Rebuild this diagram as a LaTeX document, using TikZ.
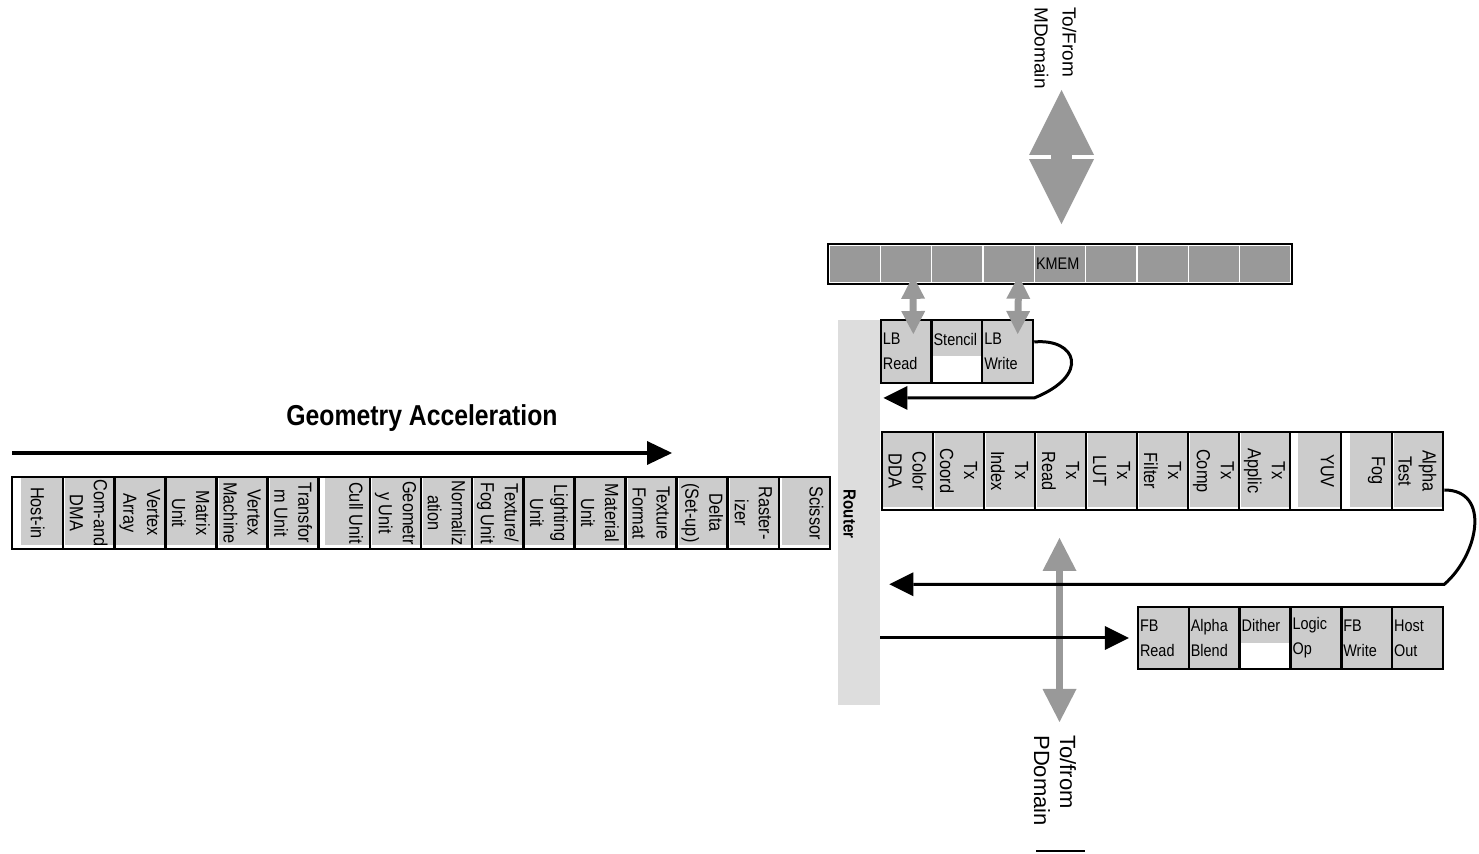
\documentclass[tikz,border=0pt]{standalone}
\usepackage{fontspec}
\newfontfamily\nfont{Liberation Sans}[FakeStretch=0.86]
\newfontfamily\wfont{Liberation Sans}
\usetikzlibrary{arrows.meta,calc}

\definecolor{cellgray}{HTML}{CCCCCC}
\definecolor{memgray}{HTML}{999999}
\definecolor{busgray}{HTML}{999999}
\definecolor{routergray}{HTML}{DDDDDD}

\tikzset{
  pipefont/.style={font=\nfont\fontsize{9.5pt}{12pt}\selectfont},
  unitfont/.style={font=\nfont\fontsize{8.4pt}{12.5pt}\selectfont},
  pipecell/.style={draw=black, line width=1.3pt, rotate=-90, inner sep=0pt,
    align=center, pipefont},
  geocell/.style={pipecell, minimum width=36pt, minimum height=25.56pt},
  rastcell/.style={pipecell, minimum width=39pt, minimum height=25.5pt},
  unitcell/.style={draw=black, line width=1.2pt, fill=cellgray,
    minimum width=25.4pt, minimum height=31.25pt, text width=23.4pt,
    inner sep=1pt, align=left, unitfont},
  halfcell/.style={unitcell, fill=none,
    path picture={\fill[cellgray] (path picture bounding box.north west)
      rectangle ([yshift=-18pt]path picture bounding box.north east);}},
  memcell/.style={fill=memgray, draw=white, line width=0.8pt,
    minimum width=25.67pt, minimum height=19pt, inner sep=0pt, unitfont},
  routerbar/.style={fill=routergray, minimum width=21pt, minimum height=192.5pt,
    inner sep=0pt},
  domainlabel/.style={rotate=-90, anchor=west, align=left, inner sep=0pt},
  flow/.style={line width=1.5pt, -{Triangle[length=12pt,width=12pt,line width=0pt]}},
  gaflow/.style={line width=2pt, -{Triangle[length=12.5pt,width=12pt,line width=0pt]}},
  bigbus/.style={busgray, line width=10.5pt,
    {Triangle[length=32.5pt,width=32.5pt,line width=0pt]}-{Triangle[length=32.5pt,width=32.5pt,line width=0pt]}},
  smallbus/.style={busgray, line width=3.5pt,
    {Triangle[length=11.5pt,width=12pt,line width=0pt]}-{Triangle[length=11.5pt,width=12pt,line width=0pt]}},
  pbus/.style={busgray, line width=3.5pt,
    {Triangle[length=16.5pt,width=17pt,line width=0pt]}-{Triangle[length=16.5pt,width=17pt,line width=0pt]}},
}

\begin{document}
\begin{tikzpicture}[x=0.5pt,y=-0.5pt]
\useasboundingbox (0,0) rectangle (1479,854);

% router bar
\node[routerbar] (router) at (859,512.5) {};
\node[rotate=-90, inner sep=0pt, font=\nfont\bfseries\fontsize{8.75pt}{10pt}\selectfont]
  (rlabel) at (849.5,514) {Router};

% geometry acceleration heading and arrow
\node[inner sep=0pt, font=\nfont\bfseries\fontsize{14.4pt}{16pt}\selectfont]
  (ga) at (422,418) {Geometry Acceleration};
\coordinate (gastart) at (12,453);
\coordinate (gaend) at (672,453);
\draw[gaflow] (gastart) -- (gaend);

% geometry pipeline
\foreach \g [count=\i] in {9,2,2,2,2,2,6,2,2,2,2,2,2,2,2,3}
  \fill[cellgray] ({12+51.125*(\i-1)+\g},478) rectangle ({12+51.125*\i},545);
\foreach \t [count=\i] in {Host-in,{Com-and\\DMA},{Vertex\\Array},{Matrix\\Unit},
    {Vertex\\Machine},{Transfor\\m Unit},{Cull Unit\\\mbox{}},{Geometr\\y Unit},
    {Normaliz\\ation},{Texture/\\Fog Unit},{Lighting\\Unit},{Material\\Unit},
    {Texture\\Format},{Delta\\(Set-up)},{Raster-\\izer},{Scissor\\\mbox{}}}
  \node[geocell] (g\i) at ({12+51.125*(\i-0.5)},513) {\t};

% rasterisation pipeline
\foreach \g [count=\i] in {1,2,2,2,2,2,2,2,8,9,2}
  \fill[cellgray] ({882+51*(\i-1)+\g},433) rectangle ({882+51*\i},507);
\foreach \t [count=\i] in {{Color\\DDA},{Tx\\Coord},{Tx\\Index},{Tx\\Read},
    {Tx\\LUT},{Tx\\Filter},{Tx\\Comp},{Tx\\Applic},{YUV\\\mbox{}},{Fog\\\mbox{}},
    {Alpha\\Test}}
  \node[rastcell] (r\i) at ({882+51*(\i-0.5)},471) {\t};

% KMEM bank
\foreach \i in {1,...,9}
  \node[memcell] (k\i) at ({829+51.333*(\i-0.5)},264) {};
\node[memcell, text width=24pt, align=left] (kmem) at (k5) {KMEM};
\draw[line width=0.9pt] (k1.north west) rectangle (k9.south east);

% local buffer units
\node[unitcell] (lbr) at (906.33,351.5) {LB\\Read};
\node[halfcell] (stc) at (957,351.5) {Stencil\\\mbox{}};
\node[unitcell] (lbw) at (1007.67,351.5) {LB\\Write};

% frame buffer units
\node[unitcell] (fbr) at (1163.42,638) {FB\\Read};
\node[unitcell] (fab) at (1214.25,638) {Alpha\\Blend};
\node[halfcell] (fdi) at (1265.08,638) {Dither\\\mbox{}};
\node[unitcell] (flo) at (1315.92,638) {Logic\\Op};
\node[unitcell] (fbw) at (1366.75,638) {FB\\Write};
\node[unitcell] (fho) at (1417.58,638) {Host\\Out};

% memory domain link
\node[domainlabel, font=\wfont\fontsize{9.5pt}{14pt}\selectfont]
  (mdlabel) at (1055.5,7) {To/From\\MDomain};
\coordinate (mdtip) at (1061.5,90);
\draw[bigbus, shorten >=10pt] (mdtip) -- (mdtip |- k5.north);

% KMEM to local buffer links
\draw[smallbus] ($(k2.south)+(7,-8)$) -- ($(lbr.north)+(7,15)$);
\draw[smallbus] ($(k4.south)+(10,-8)$) -- ($(lbw.north)+(10,15)$);

% pixel domain link
\node[domainlabel, font=\wfont\fontsize{11pt}{13pt}\selectfont]
  (pdlabel) at (1055,735) {To/from\\PDomain};
\coordinate (pdtip) at (1059.5,538);
\draw[pbus, shorten >=6.5pt] (pdtip) -- (pdtip |- pdlabel.west);

% return loops to the router
\coordinate (lbret) at ($(lbw.south east)+(0,14)$);
\draw[flow, shorten >=1.5pt] ($(lbw.east)+(0,-9.5)$)
  .. controls ($(lbw.east)+(42,-13.5)$) and ($(lbw.east)+(57,23.5)$) .. (lbret)
  -- (router.east |- lbret);

% (the rotated cell's north side faces right)
\coordinate (atret) at ($(r11.north east)+(0,73)$);
\draw[flow, shorten >=4.5pt] ($(r11.north)+(0,19)$)
  .. controls ($(r11.north)+(47,19)$) and ($(r11.north)+(34,84)$) .. (atret)
  -- (router.east |- atret);

% router to frame buffer
\draw[flow, shorten >=4pt] (router.east |- fbr.west) -- (fbr.west);

% rule under the pixel domain label
\coordinate (rule1) at (1036,851);
\coordinate (rule2) at (1085,851);
\draw[line width=1pt] (rule1) -- (rule2);
\end{tikzpicture}
\end{document}
